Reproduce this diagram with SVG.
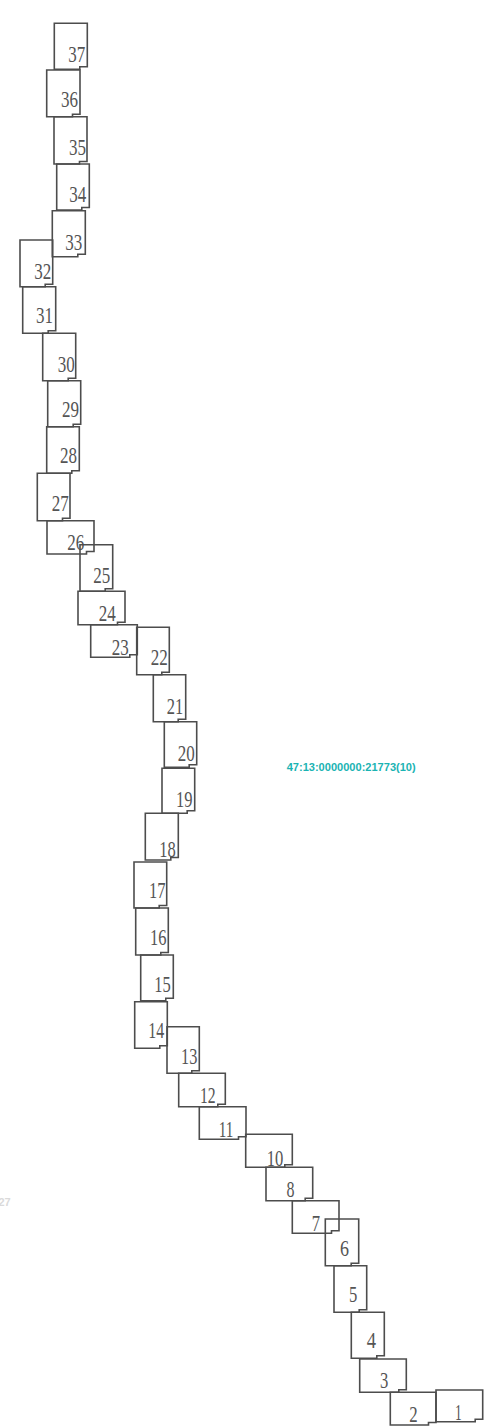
<svg xmlns="http://www.w3.org/2000/svg" width="485" height="1427" viewBox="0 0 485 1427">
<style>
.p{fill:none;stroke:#4d4d4d;stroke-width:1.6;stroke-linejoin:miter}
.t{font-family:"Liberation Serif","Times New Roman",serif;font-size:23px;fill:#555}
.c{font-family:"Liberation Sans",Arial,sans-serif;font-weight:bold;font-size:10px;fill:#1ab3b3}
.g{font-family:"Liberation Sans",Arial,sans-serif;font-weight:bold;font-size:11px;fill:#dadada}
</style>
<rect width="485" height="1427" fill="#fff"/>
<g id="p37"><path class="p" d="M54.3 23.3H87.3V66.7H79.8V69.3H54.3Z"/><text class="t" x="68.3" y="62" textLength="17" lengthAdjust="spacingAndGlyphs">37</text></g>
<g id="p36"><path class="p" d="M46.7 70H80V114.2H72.5V116.7H46.7Z"/><text class="t" x="61" y="107.3" textLength="17" lengthAdjust="spacingAndGlyphs">36</text></g>
<g id="p35"><path class="p" d="M54 116.7H87V161.5H79.5V164H54Z"/><text class="t" x="69" y="155.3" textLength="17" lengthAdjust="spacingAndGlyphs">35</text></g>
<g id="p34"><path class="p" d="M56.7 164H89.3V207.5H81.8V210H56.7Z"/><text class="t" x="69.3" y="202" textLength="17" lengthAdjust="spacingAndGlyphs">34</text></g>
<g id="p33"><path class="p" d="M52.3 210.7H85.3V254.2H77.8V256.7H52.3Z"/><text class="t" x="65.3" y="250" textLength="17" lengthAdjust="spacingAndGlyphs">33</text></g>
<g id="p32"><path class="p" d="M20 240H52.7V284.2H45.2V286.7H20Z"/><text class="t" x="34.3" y="279.3" textLength="17" lengthAdjust="spacingAndGlyphs">32</text></g>
<g id="p31"><path class="p" d="M22.7 286.7H55.7V330.8H48.2V333.3H22.7Z"/><text class="t" x="36" y="323.3" textLength="17" lengthAdjust="spacingAndGlyphs">31</text></g>
<g id="p30"><path class="p" d="M42.7 333.3H75.7V378.2H68.2V380.7H42.7Z"/><text class="t" x="57.7" y="371.7" textLength="17" lengthAdjust="spacingAndGlyphs">30</text></g>
<g id="p29"><path class="p" d="M47.7 380.7H80.7V424.2H73.2V426.7H47.7Z"/><text class="t" x="62" y="416.7" textLength="17" lengthAdjust="spacingAndGlyphs">29</text></g>
<g id="p28"><path class="p" d="M46.7 426.7H79.3V470.8H71.8V473.3H46.7Z"/><text class="t" x="60" y="463.3" textLength="17" lengthAdjust="spacingAndGlyphs">28</text></g>
<g id="p27"><path class="p" d="M37.3 473.3H70V518.2H62.5V520.7H37.3Z"/><text class="t" x="51.7" y="511" textLength="17" lengthAdjust="spacingAndGlyphs">27</text></g>
<g id="p26"><path class="p" d="M47 520.7H94V551.5H86.5V554H47Z"/><text class="t" x="67.3" y="550" textLength="17" lengthAdjust="spacingAndGlyphs">26</text></g>
<g id="p25"><path class="p" d="M80 544.7H112.7V588.8H105.2V591.3H80Z"/><text class="t" x="93.3" y="582.7" textLength="17" lengthAdjust="spacingAndGlyphs">25</text></g>
<g id="p24"><path class="p" d="M78 591.3H125V622.2H117.5V624.7H78Z"/><text class="t" x="98.7" y="621.3" textLength="17" lengthAdjust="spacingAndGlyphs">24</text></g>
<g id="p23"><path class="p" d="M90.7 624.7H137.3V654.8H129.8V657.3H90.7Z"/><text class="t" x="111.7" y="655" textLength="17" lengthAdjust="spacingAndGlyphs">23</text></g>
<g id="p22"><path class="p" d="M136.7 627.3H169.3V672.2H161.8V674.7H136.7Z"/><text class="t" x="150.7" y="665" textLength="17" lengthAdjust="spacingAndGlyphs">22</text></g>
<g id="p21"><path class="p" d="M153.3 674.7H185.7V719.2H178.2V721.7H153.3Z"/><text class="t" x="166.7" y="714.3" textLength="16.5" lengthAdjust="spacingAndGlyphs">21</text></g>
<g id="p20"><path class="p" d="M164.3 721.7H196.7V764.8H189.2V767.3H164.3Z"/><text class="t" x="177.7" y="760.7" textLength="17" lengthAdjust="spacingAndGlyphs">20</text></g>
<g id="p19"><path class="p" d="M162 768.3H194.7V810.8H187.2V813.3H162Z"/><text class="t" x="176" y="806.7" textLength="16.5" lengthAdjust="spacingAndGlyphs">19</text></g>
<g id="p18"><path class="p" d="M145.3 813.3H178.3V857.5H170.8V860H145.3Z"/><text class="t" x="159.3" y="857.3" textLength="16.5" lengthAdjust="spacingAndGlyphs">18</text></g>
<g id="p17"><path class="p" d="M134 862H166.7V905.5H159.2V908H134Z"/><text class="t" x="149" y="898" textLength="16.5" lengthAdjust="spacingAndGlyphs">17</text></g>
<g id="p16"><path class="p" d="M135.7 908H168.3V952.5H160.8V955H135.7Z"/><text class="t" x="150" y="944.7" textLength="16.5" lengthAdjust="spacingAndGlyphs">16</text></g>
<g id="p15"><path class="p" d="M140.7 955H173.3V998.2H165.8V1000.7H140.7Z"/><text class="t" x="154.3" y="991.7" textLength="16.5" lengthAdjust="spacingAndGlyphs">15</text></g>
<g id="p14"><path class="p" d="M134.7 1001.7H167.3V1045.8H159.8V1048.3H134.7Z"/><text class="t" x="148.3" y="1038.3" textLength="16" lengthAdjust="spacingAndGlyphs">14</text></g>
<g id="p13"><path class="p" d="M167 1026.7H199.3V1070.8H191.8V1073.3H167Z"/><text class="t" x="181" y="1064" textLength="16.3" lengthAdjust="spacingAndGlyphs">13</text></g>
<g id="p12"><path class="p" d="M178.7 1073.3H225.3V1104.2H217.8V1106.7H178.7Z"/><text class="t" x="200" y="1103.3" textLength="15.7" lengthAdjust="spacingAndGlyphs">12</text></g>
<g id="p11"><path class="p" d="M199.3 1106.7H246V1136.8H238.5V1139.3H199.3Z"/><text class="t" x="218.7" y="1136.7" textLength="14.7" lengthAdjust="spacingAndGlyphs">11</text></g>
<g id="p10"><path class="p" d="M245.7 1134.3H292.3V1164.8H284.8V1167.3H245.7Z"/><text class="t" x="266.7" y="1165.7" textLength="16.6" lengthAdjust="spacingAndGlyphs">10</text></g>
<g id="p8"><path class="p" d="M266 1167.3H312.7V1198.2H305.2V1200.7H266Z"/><text class="t" x="286.5" y="1196.7" textLength="8" lengthAdjust="spacingAndGlyphs">8</text></g>
<g id="p7"><path class="p" d="M292.3 1200.7H339V1230.8H331.5V1233.3H292.3Z"/><text class="t" x="311.7" y="1230.7" textLength="8.3" lengthAdjust="spacingAndGlyphs">7</text></g>
<g id="p6"><path class="p" d="M325.3 1219H358.7V1263.2H351.2V1265.7H325.3Z"/><text class="t" x="340" y="1256" textLength="9" lengthAdjust="spacingAndGlyphs">6</text></g>
<g id="p5"><path class="p" d="M334 1265.7H366.7V1309.8H359.2V1312.3H334Z"/><text class="t" x="349" y="1301.7" textLength="8.3" lengthAdjust="spacingAndGlyphs">5</text></g>
<g id="p4"><path class="p" d="M351.3 1312.3H384.3V1355.8H376.8V1358.3H351.3Z"/><text class="t" x="366.7" y="1348.3" textLength="9.3" lengthAdjust="spacingAndGlyphs">4</text></g>
<g id="p3"><path class="p" d="M359.7 1359H406.3V1389.8H398.8V1392.3H359.7Z"/><text class="t" x="380" y="1388.3" textLength="8.3" lengthAdjust="spacingAndGlyphs">3</text></g>
<g id="p2"><path class="p" d="M390.3 1392.3H436V1422.5H428.5V1425H390.3Z"/><text class="t" x="409.3" y="1421.7" textLength="8.4" lengthAdjust="spacingAndGlyphs">2</text></g>
<g id="p1"><path class="p" d="M436 1390H482.7V1419.2H475.2V1421.7H436Z"/><text class="t" x="455" y="1420" textLength="6.7" lengthAdjust="spacingAndGlyphs">1</text></g>
<g id="labels">
<text class="c" x="286.7" y="770.7" textLength="129" lengthAdjust="spacingAndGlyphs">47:13:0000000:21773(10)</text>
<text class="g" x="-1.5" y="1206">27</text>
</g>
<g id="connectors"/>
</svg>
